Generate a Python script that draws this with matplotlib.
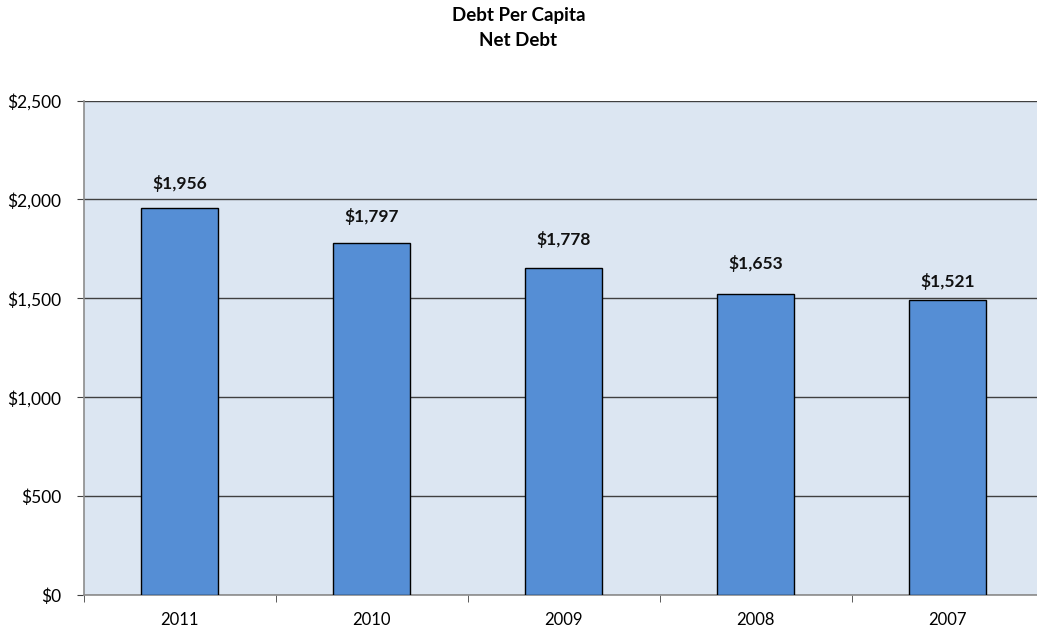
import numpy as np
import matplotlib
matplotlib.use("Agg")
from matplotlib import pyplot as plt
from matplotlib.ticker import FuncFormatter, MultipleLocator

years = ["2011", "2010", "2009", "2008", "2007"]
bar_values = [1956, 1778, 1653, 1521, 1489]
label_texts = ["$1,956", "$1,797", "$1,778", "$1,653", "$1,521"]
label_y = [2082, 1913, 1796, 1676, 1586]

plt.rcParams['font.family'] = ['Lato', 'DejaVu Sans']

fig = plt.figure(figsize=(10.37, 6.29), dpi=100)
# axes runs a little past the right edge, as in the original
ax = fig.add_axes([83.5 / 1037, 34 / 629, 960 / 1037, 494.5 / 629])
ax.set_facecolor("#DCE6F2")

x = np.arange(len(years))
ax.bar(x, bar_values, width=0.4, color="#558ED5", edgecolor="black",
       linewidth=1.0, zorder=3)

for xi, txt, ly in zip(x, label_texts, label_y):
    ax.text(xi, ly, txt, ha="center", va="center", fontsize=12.5,
            fontweight="bold", color="#111111", zorder=4)

ax.set_xlim(-0.5, len(years) - 0.5)
ax.set_ylim(0, 2500)
ax.yaxis.set_major_locator(MultipleLocator(500))
ax.yaxis.set_major_formatter(FuncFormatter(lambda v, p: "${:,.0f}".format(v)))
ax.grid(axis="y", color="#404040", linewidth=1.0, zorder=1)

ax.set_xticks(x)
ax.set_xticklabels(years)
ax.set_xticks(np.arange(len(years) + 1) - 0.5, minor=True)
ax.tick_params(axis="x", which="major", length=0, pad=12, labelsize=12)
ax.tick_params(axis="x", which="minor", length=5, color="#404040")
ax.tick_params(axis="y", length=5, color="#404040", pad=11, labelsize=12.5)

for s in ["top", "right"]:
    ax.spines[s].set_visible(False)
for s in ["left", "bottom"]:
    ax.spines[s].set_color("#8c8c8c")
    ax.spines[s].set_linewidth(1.2)

fig.text(0.5, 1 - 15 / 629, "Debt Per Capita", ha="center", va="center",
         fontsize=13.5, fontweight="bold")
fig.text(0.5, 1 - 41 / 629, "Net Debt", ha="center", va="center",
         fontsize=13.5, fontweight="bold")

fig.savefig("out.png", dpi=100)
